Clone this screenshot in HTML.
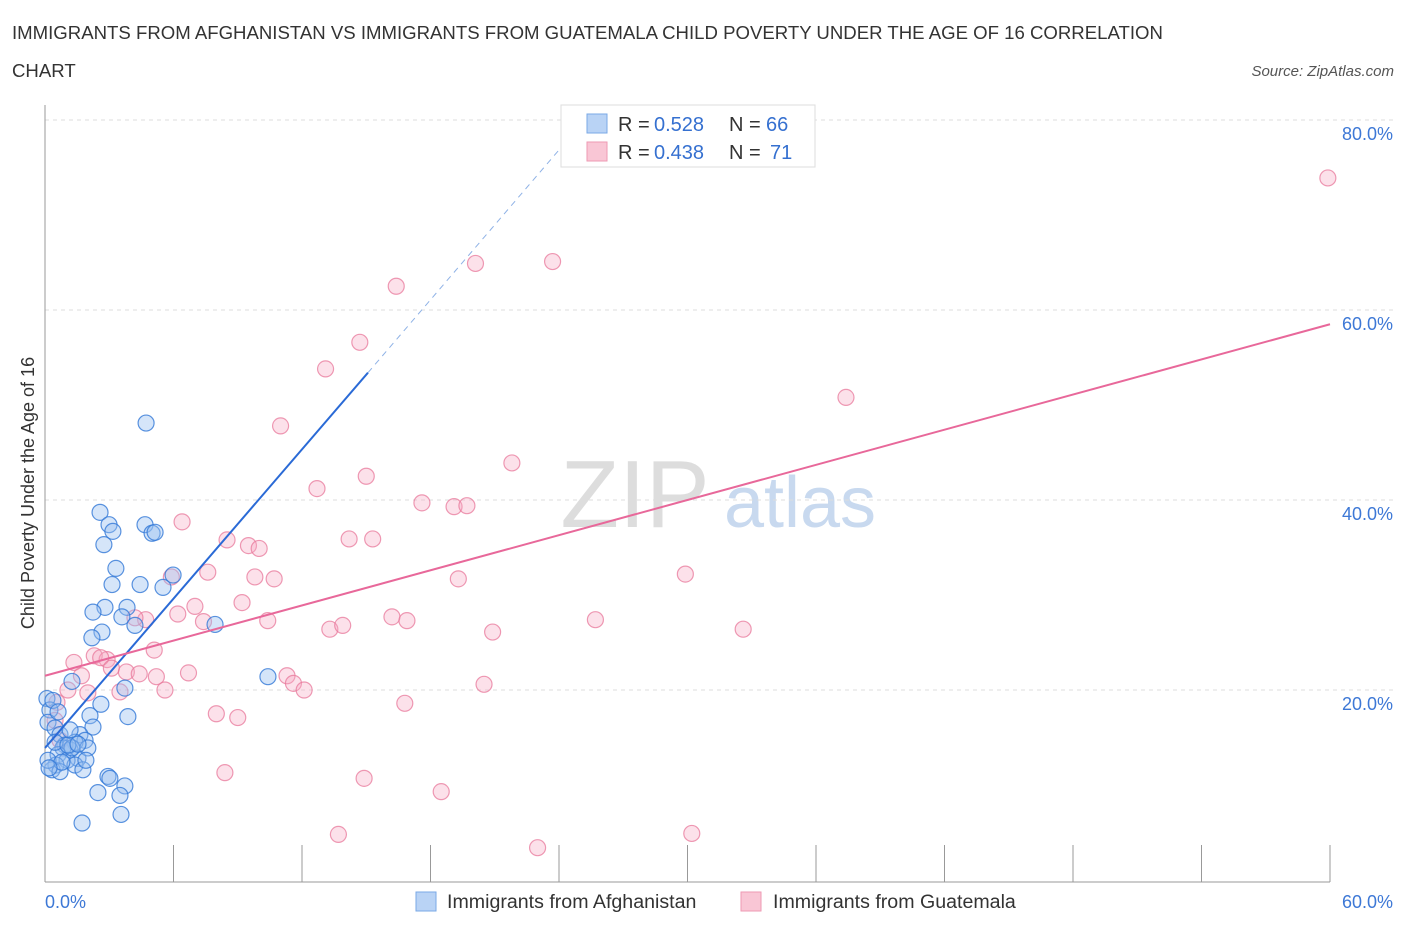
<!DOCTYPE html>
<html><head><meta charset="utf-8"><style>
body{margin:0;background:#fff;font-family:"Liberation Sans",Arial,sans-serif;}
svg text{font-family:"Liberation Sans",Arial,sans-serif;}
</style></head><body>
<svg id="c" width="1406" height="930" xmlns="http://www.w3.org/2000/svg">
<text x="12" y="39" font-size="18.6" fill="#333">IMMIGRANTS FROM AFGHANISTAN VS IMMIGRANTS FROM GUATEMALA CHILD POVERTY UNDER THE AGE OF 16 CORRELATION</text>
<text x="12" y="77" font-size="18.6" fill="#333">CHART</text>
<text x="1394" y="76" font-size="15" fill="#555" font-style="italic" text-anchor="end">Source: ZipAtlas.com</text>
<text x="635" y="527" font-size="96" fill="#ddd" font-family="Liberation Serif" text-anchor="middle">ZIP</text>
<text x="800" y="527" font-size="72" fill="#c8d9ef" text-anchor="middle">atlas</text>
<text transform="translate(34,493) rotate(-90)" font-size="18" fill="#333" text-anchor="middle">Child Poverty Under the Age of 16</text>
<g id="grid"></g><g id="marks"></g>
<g>
<rect x="561" y="105" width="254" height="62" fill="#fff" stroke="#ddd"/>
<rect x="587" y="114" width="20" height="19" fill="#b9d3f5" stroke="#7aa8e6"/>
<rect x="587" y="142" width="20" height="19" fill="#f9c6d5" stroke="#ee9ab3"/>
<text x="618" y="131" font-size="20" fill="#333">R =</text>
<text x="654" y="131" font-size="20" fill="#3570d0">0.528</text>
<text x="729" y="131" font-size="20" fill="#333">N =</text>
<text x="766" y="131" font-size="20" fill="#3570d0">66</text>
<text x="618" y="159" font-size="20" fill="#333">R =</text>
<text x="654" y="159" font-size="20" fill="#3570d0">0.438</text>
<text x="729" y="159" font-size="20" fill="#333">N =</text>
<text x="770" y="159" font-size="20" fill="#3570d0">71</text>
</g>
<g>
<rect x="416" y="892" width="20" height="19" fill="#b9d3f5" stroke="#7aa8e6"/>
<text x="447" y="908" font-size="19.6" fill="#333">Immigrants from Afghanistan</text>
<rect x="741" y="892" width="20" height="19" fill="#f9c6d5" stroke="#ee9ab3"/>
<text x="773" y="908" font-size="19.6" fill="#333">Immigrants from Guatemala</text>
</g>
</svg>
<script>
const blueX=[4.72,2.57,2.99,3.17,2.75,4.67,5.0,5.14,3.31,3.13,4.44,5.98,5.51,2.8,2.24,3.83,3.59,4.2,2.66,2.19,7.94,10.41,1.26,3.73,2.61,3.87,2.1,0.09,0.23,0.14,0.47,2.24,0.7,1.63,1.87,1.4,0.93,1.17,0.84,0.61,1.54,1.03,0.51,0.33,0.7,1.4,1.77,0.14,2.94,3.03,3.73,2.47,3.5,3.55,1.73,0.47,1.26,1.07,2.0,0.79,0.19,0.37,0.61,1.17,1.54,1.91];
const blueY=[48.1,38.7,37.4,36.7,35.3,37.4,36.5,36.6,32.8,31.1,31.1,32.1,30.8,28.7,28.2,28.7,27.7,26.8,26.1,25.5,26.9,21.4,20.9,20.2,18.5,17.2,17.3,19.1,17.9,16.6,16.0,16.1,15.3,15.3,14.7,14.5,14.2,13.7,13.9,13.2,12.8,12.6,12.1,11.6,11.4,12.1,11.6,12.6,10.9,10.7,9.9,9.2,8.9,6.9,6.0,14.5,13.9,14.2,13.9,12.4,11.8,18.9,17.7,15.8,14.3,12.6];
const pinkX=[59.9,23.7,20.1,16.4,14.7,13.1,37.4,11.0,21.8,15.0,12.7,17.6,19.1,19.7,6.4,8.5,14.2,15.3,9.5,10.0,7.6,29.9,5.9,9.8,10.7,19.3,7.0,9.2,6.2,4.7,4.2,7.4,10.4,16.2,16.9,25.7,13.3,13.9,20.9,32.6,5.1,1.35,2.3,2.9,2.6,3.1,3.8,4.4,5.2,6.7,1.7,11.3,11.6,12.1,5.6,20.5,1.07,3.5,2.0,0.56,16.8,8.0,9.0,0.47,8.4,14.9,18.5,13.7,30.2,23.0,0.7];
const pinkY=[73.9,65.1,64.9,62.5,56.6,53.8,50.8,47.8,43.9,42.5,41.2,39.7,39.3,39.4,37.7,35.8,35.9,35.9,35.2,34.9,32.4,32.2,31.9,31.9,31.7,31.7,28.8,29.2,28.0,27.4,27.6,27.2,27.3,27.7,27.3,27.4,26.4,26.8,26.1,26.4,24.2,22.9,23.6,23.2,23.4,22.3,21.9,21.7,21.4,21.8,21.5,21.5,20.7,20.0,20.0,20.6,20.0,19.8,19.7,18.7,18.6,17.5,17.1,16.8,11.3,10.7,9.3,4.8,4.9,3.4,14.7];
const blueLine=[0,13.9,15.08,53.4,25.2,80];
const pinkLine=[0,21.5,60,58.5];
const yTicks=[20,40,60,80];
const xTicks=[0,6,12,18,24,30,36,42,48,54,60];
const NS="http://www.w3.org/2000/svg";
const sx=v=>45+v*(1285/60), sy=v=>880-v*9.5;
function mk(t,a,p){const e=document.createElementNS(NS,t);for(const k in a)e.setAttribute(k,a[k]);p.appendChild(e);return e;}
const g=document.getElementById('grid'),m=document.getElementById('marks');
yTicks.forEach(v=>{
 const l=mk('line',{x1:45,x2:1395,y1:sy(v),y2:sy(v),stroke:'#ddd','stroke-dasharray':'4,4'},g);
 
 
 const t=mk('text',{x:1393,y:sy(v)+20,'font-size':18,fill:'#3d78d6','text-anchor':'end'},g);
 t.textContent=v.toFixed(1)+'%';
 
 
});
const ax=mk('line',{x1:45,x2:45,y1:105,y2:882,stroke:'#999'},g);


const bx=mk('line',{x1:45,x2:1330,y1:882,y2:882,stroke:'#999'},g);


xTicks.forEach(v=>{
 const l=mk('line',{x1:sx(v),x2:sx(v),y1:845,y2:882,stroke:'#999'},g);
 
 
});
[[0,'start',45],[60,'end',1393]].forEach(([v,a,x])=>{
 const t=mk('text',{x:x,y:908,'font-size':18,fill:'#3d78d6','text-anchor':a},g);
 t.textContent=v.toFixed(1)+'%';
 
 
});
function pts(X,Y,f,s,n){X.forEach((x,i)=>{const c=mk('circle',{cx:sx(x),cy:sy(Y[i]),r:8,fill:f,stroke:s,'stroke-width':1.2},m);
 
 });}
pts(pinkX,pinkY,'rgba(246,170,195,0.35)','rgba(232,120,155,0.75)','guatemala-point');
pts(blueX,blueY,'rgba(150,190,240,0.4)','rgba(50,120,215,0.8)','afghanistan-point');
const b1=mk('line',{x1:sx(blueLine[0]),y1:sy(blueLine[1]),x2:sx(blueLine[2]),y2:sy(blueLine[3]),stroke:'#2a6ad6','stroke-width':2},m);


const b2=mk('line',{x1:sx(blueLine[2]),y1:sy(blueLine[3]),x2:sx(blueLine[4]),y2:sy(blueLine[5]),stroke:'#8fb2e6','stroke-width':1,'stroke-dasharray':'6,5'},m);


const p1=mk('line',{x1:sx(pinkLine[0]),y1:sy(pinkLine[1]),x2:sx(pinkLine[2]),y2:sy(pinkLine[3]),stroke:'#e8689a','stroke-width':2},m);


</script>
</body></html>
